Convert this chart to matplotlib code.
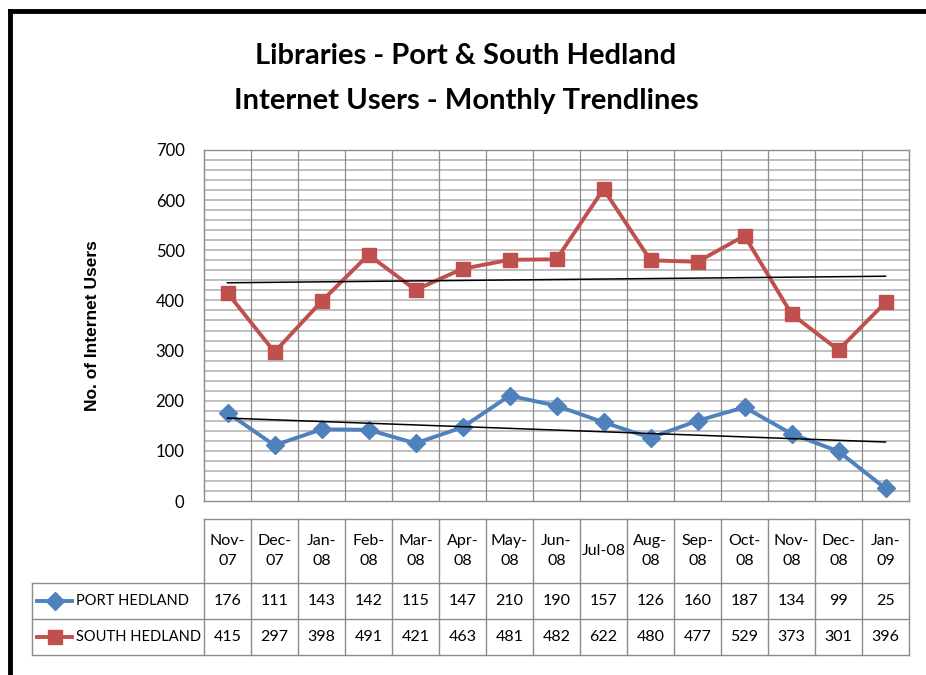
import matplotlib.pyplot as plt
import numpy as np
from matplotlib.lines import Line2D

months = ['Nov-\n07', 'Dec-\n07', 'Jan-\n08', 'Feb-\n08', 'Mar-\n08', 'Apr-\n08',
          'May-\n08', 'Jun-\n08', 'Jul-08', 'Aug-\n08', 'Sep-\n08', 'Oct-\n08',
          'Nov-\n08', 'Dec-\n08', 'Jan-\n09']
port_hedland = [176, 111, 143, 142, 115, 147, 210, 190, 157, 126, 160, 187, 134, 99, 25]
south_hedland = [415, 297, 398, 491, 421, 463, 481, 482, 622, 480, 477, 529, 373, 301, 396]

series = [('PORT HEDLAND', port_hedland, '#4F81BD', 'D', 9),
          ('SOUTH HEDLAND', south_hedland, '#C0504D', 's', 10.5)]

W, H = 926, 675
fig = plt.figure(figsize=(W / 100, H / 100), dpi=100)
font = 'Lato'


def px_box(x0, y0, x1, y1):
    return [x0 / W, 1 - y1 / H, (x1 - x0) / W, (y1 - y0) / H]


# outer frame (left and top edges)
fig.add_artist(Line2D([10 / W, 10 / W], [0, 1 - 11 / H], color='black', lw=3.5))
fig.add_artist(Line2D([10 / W, 1], [1 - 11 / H, 1 - 11 / H], color='black', lw=3.5))

fig.text(466 / W, 1 - 56 / H, 'Libraries - Port & South Hedland', ha='center', va='center',
         fontsize=21, fontweight='bold', family=font)
fig.text(466 / W, 1 - 101 / H, 'Internet Users - Monthly Trendlines', ha='center', va='center',
         fontsize=21, fontweight='bold', family=font)

# main plot
ax = fig.add_axes(px_box(204, 150, 909, 501))
x = np.arange(len(months))
ax.set_xlim(-0.5, len(months) - 0.5)
ax.set_ylim(0, 700)
for yv in range(20, 700, 20):
    ax.axhline(yv, color='#adadad', lw=1.1, zorder=0)
for xv in np.arange(0.5, len(months) - 0.5, 1):
    ax.axvline(xv, color='#8c8c8c', lw=0.9, zorder=0)

for name, vals, col, mk, ms in series:
    ax.plot(x, vals, color=col, lw=2.8, marker=mk, markersize=ms, zorder=3)
    slope, icpt = np.polyfit(x, vals, 1)
    ax.plot([x[0], x[-1]], [icpt, icpt + slope * x[-1]], color='black', lw=1.1, zorder=4)

ax.set_xticks([])
ax.set_yticks(range(0, 701, 100))
ax.tick_params(axis='y', length=0, pad=14, labelsize=12)
for lab in ax.get_yticklabels():
    lab.set_family(font)
for s in ax.spines.values():
    s.set_color('#8c8c8c')
    s.set_linewidth(1.0)
ax.set_ylabel('No. of Internet Users', fontsize=12.5, fontweight='bold',
              family='Liberation Sans', labelpad=40)

# data table below the plot
leg_w = 172 / 47
tab = fig.add_axes(px_box(32, 519, 909, 655))
tab.set_xlim(-0.5 - leg_w, len(months) - 0.5)
tab.set_ylim(655, 519)
tab.axis('off')
grid_c = '#8c8c8c'
row_y = [519, 583, 619, 655]
left = -0.5 - leg_w
for i in range(len(months) + 1):
    tab.plot([i - 0.5, i - 0.5], [row_y[0], row_y[-1]], color=grid_c, lw=1.0, clip_on=False)
tab.plot([left, left], [row_y[1], row_y[-1]], color=grid_c, lw=1.0, clip_on=False)
tab.plot([-0.5, len(months) - 0.5], [row_y[0], row_y[0]], color=grid_c, lw=1.0, clip_on=False)
for yv in row_y[1:]:
    tab.plot([left, len(months) - 0.5], [yv, yv], color=grid_c, lw=1.0, clip_on=False)

for i, m in enumerate(months):
    tab.text(i, (row_y[0] + row_y[1]) / 2, m, ha='center', va='center', fontsize=11.5,
             family=font, linespacing=1.5)

for r, (name, vals, col, mk, ms) in enumerate(series):
    yc = (row_y[r + 1] + row_y[r + 2]) / 2
    for i, v in enumerate(vals):
        tab.text(i, yc, str(v), ha='center', va='center', fontsize=11.5, family=font)
    lx0 = left + 5 / 47
    lx1 = left + 40 / 47
    tab.plot([lx0, lx1], [yc, yc], color=col, lw=2.8)
    tab.plot([(lx0 + lx1) / 2], [yc], color=col, marker=mk, markersize=ms)
    tab.text(left + 44 / 47, yc, name, ha='left', va='center', fontsize=10.5, family=font)

fig.savefig('out.png', dpi=100)
